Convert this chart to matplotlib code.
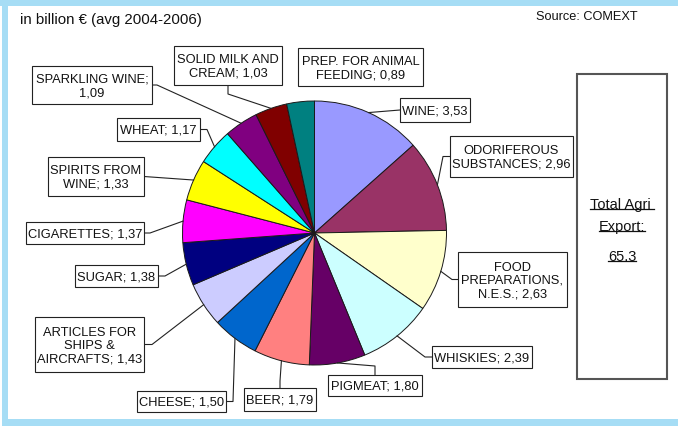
import matplotlib
matplotlib.use("Agg")
import matplotlib.pyplot as plt
from matplotlib.patches import Rectangle
import numpy as np

plt.rcParams['font.family'] = ['Liberation Sans', 'DejaVu Sans']

# EU agri export products, in billion EUR (avg 2004-2006), clockwise from top
products = ["WINE", "ODORIFEROUS\nSUBSTANCES", "FOOD\nPREPARATIONS,\nN.E.S.", "WHISKIES",
            "PIGMEAT", "BEER", "CHEESE", "ARTICLES FOR\nSHIPS &\nAIRCRAFTS", "SUGAR",
            "CIGARETTES", "SPIRITS FROM\nWINE", "WHEAT", "SPARKLING WINE",
            "SOLID MILK AND\nCREAM", "PREP. FOR ANIMAL\nFEEDING"]
values = [3.53, 2.96, 2.63, 2.39, 1.80, 1.79, 1.50, 1.43, 1.38, 1.37, 1.33, 1.17, 1.09, 1.03, 0.89]
total_export = "65.3"

colors = ["#9999ff", "#993366", "#ffffcc", "#ccffff", "#660066", "#ff8080", "#0066cc",
          "#ccccff", "#000080", "#ff00ff", "#ffff00", "#00ffff", "#800080", "#800000", "#008080"]

# label boxes in pixel coords (x0, y0, x1, y1), leader side and stub length
boxes = [(400, 99, 470, 123), (450, 137, 573, 178), (458, 253, 567, 308), (432, 347, 532, 369),
         (328, 376, 422, 397), (244, 389, 316, 412), (137, 392, 226, 413), (35, 318, 144, 373),
         (75, 266, 158, 288), (26, 223, 144, 245), (48, 158, 144, 197), (117, 119, 200, 142),
         (32, 67, 152, 105), (174, 47, 282, 86), (298, 49, 423, 87)]
leader = [('l', 0), ('l', 7), ('l', 6), ('l', 7), ('t', 9), ('t', 7), ('r', 7), ('r', 8),
          ('r', 7), ('r', 6), ('r', 0), ('r', 7), ('r', 5), ('b', 9), (None, 0)]
seps = ["; "] * len(products)
seps[12] = ";\n"

W, H = 678, 427
fig = plt.figure(figsize=(W / 100, H / 100), dpi=100)
ax = fig.add_axes([0, 0, 1, 1])

cx, cy, r = 314.5, 234, 132
# y axis is inverted below, so counterclock in data = clockwise on screen
wedges, _ = ax.pie(values, colors=colors, startangle=-90, counterclock=True,
                   center=(cx, cy), radius=r,
                   wedgeprops=dict(edgecolor='#1a1a1a', linewidth=0.7))
ax.set_xlim(0, W)
ax.set_ylim(H, 0)
ax.set_aspect('auto')
ax.axis('off')

# light blue frame
blue = '#a6ddf5'
for rx, ry, rw, rh in [(0, 0, W, 7), (2, 0, 6, H), (2, 420, W - 2, 7)]:
    ax.add_patch(Rectangle((rx, ry), rw, rh, fc=blue, ec='none', zorder=0))

ax.text(20, 20, "in billion € (avg 2004-2006)", fontsize=10.8, ha='left', va='center', color='#111111')
ax.text(536, 17, "Source: COMEXT", fontsize=9.2, ha='left', va='center', color='#111111')

for w, name, v, sep, (x0, y0, x1, y1), (side, stub) in zip(wedges, products, values, seps, boxes, leader):
    ax.add_patch(Rectangle((x0, y0), x1 - x0, y1 - y0, fc='white', ec='#222222', lw=0.8, zorder=3))
    lab = name + sep + ("%.2f" % v).replace('.', ',')
    ax.text((x0 + x1) / 2, (y0 + y1) / 2 + 0.5, lab, fontsize=9.3, ha='center', va='center',
            multialignment='center', color='#111111', zorder=4, linespacing=1.15)
    if side is None:
        continue
    th = np.radians((w.theta1 + w.theta2) / 2)
    axp, ayp = cx + r * np.cos(th), cy + r * np.sin(th)
    xm, ym = (x0 + x1) / 2, (y0 + y1) / 2
    if side == 'l':
        pts = [(x0, ym), (x0 - stub, ym)]
    elif side == 'r':
        pts = [(x1, ym), (x1 + stub, ym)]
    elif side == 't':
        pts = [(xm, y0), (xm, y0 - stub)]
    else:
        pts = [(xm, y1), (xm, y1 + stub)]
    pts.append((axp, ayp))
    xs, ys = zip(*pts)
    ax.plot(xs, ys, color='#222222', lw=0.8, zorder=2)

# total box
ax.add_patch(Rectangle((577, 75), 90, 305, fc='white', ec='#555555', lw=1.5, zorder=3))
tot_texts = []
for s, y in [("Total Agri ", 205), ("Export:", 227), (total_export, 257)]:
    tot_texts.append(ax.text(622, y, s, fontsize=10.5, ha='center', va='center', color='#111111', zorder=4))

fig.canvas.draw()
rend = fig.canvas.get_renderer()
inv = ax.transData.inverted()
for t in tot_texts:
    bb = t.get_window_extent(renderer=rend)
    (ux0, uy0), (ux1, uy1) = inv.transform([(bb.x0, bb.y0), (bb.x1, bb.y1)])
    ax.plot([ux0, ux1], [uy0 - 2, uy0 - 2], color='#111111', lw=0.9, zorder=4)

fig.savefig('out.png', dpi=100)
